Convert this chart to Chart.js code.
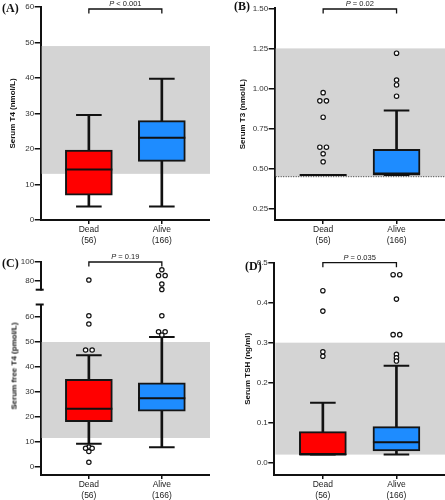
<!DOCTYPE html>
<html>
<head>
<meta charset="utf-8">
<script src="https://cdn.jsdelivr.net/npm/chart.js@4.4.1/dist/chart.umd.min.js"></script>
<style>
  html, body { margin: 0; padding: 0; background: #fff; }
  #page { position: relative; width: 445px; height: 500px; overflow: hidden; }
  .pane { position: absolute; }
  .tag { position: absolute; font: bold 12px "Liberation Serif", "Times New Roman", serif; line-height: 12px; color: #111; }
  #titleC { position: absolute; left: 14px; top: 366px; font: bold 8px "Liberation Sans", Arial, sans-serif;
            color: #111; white-space: nowrap; transform: translate(-50%, -50%) rotate(-90deg); }
</style>
</head>
<body>
<div id="page">
  <div class="pane" style="left:0;top:0;width:210px;height:250px"><canvas id="cA"></canvas></div>
  <div class="pane" style="left:222px;top:0;width:223px;height:250px"><canvas id="cB"></canvas></div>
  <div class="pane" style="left:0;top:250px;width:210px;height:45px"><canvas id="cCtop"></canvas></div>
  <div class="pane" style="left:0;top:250px;width:210px;height:250px"><canvas id="cC"></canvas></div>
  <div class="pane" style="left:222px;top:250px;width:223px;height:250px"><canvas id="cD"></canvas></div>
  <div class="tag" style="left:2px;top:2px">(A)</div>
  <div class="tag" style="left:234px;top:0px">(B)</div>
  <div class="tag" style="left:2px;top:257px">(C)</div>
  <div class="tag" style="left:245px;top:260px">(D)</div>
  <div id="titleC">Serum free T4 (pmol/L)</div>
</div>
<script>
// groups on the x axis
const groups = ['Dead', 'Alive'];
const groupN = ['(56)', '(166)'];
const boxColors = ['#ff0000', '#1e8cff'];

// boxes are [low whisker, Q1, median, Q3, high whisker]
// (A) serum T4
const t4Dead = [3.8, 7.0, 14.2, 19.7, 29.6];
const t4Alive = [3.8, 16.5, 23.2, 28.0, 39.8];
const t4Band = [13, 49];
const t4Ticks = [0, 10, 20, 30, 40, 50, 60];

// (B) serum T3
const t3Dead = [0.46, 0.46, 0.46, 0.46, 0.46];
const t3Alive = [0.46, 0.46, 0.47, 0.62, 0.862];
const t3DeadOut = [0.974, 0.923, 0.923, 0.821, 0.634, 0.634, 0.593, 0.543];
const t3AliveOut = [1.22, 1.053, 1.022, 0.952];
const t3Band = [0.45, 1.25];
const t3Ticks = [0.25, 0.5, 0.75, 1.0, 1.25, 1.5];

// (C) serum free T4 (broken axis)
const ft4Dead = [9.3, 18.1, 23.3, 35.1, 44.7];
const ft4Alive = [7.9, 22.3, 27.5, 33.7, 52.0];
const ft4DeadOut = [80.5, 60.5, 57.2, 46.8, 46.8, 8.0, 7.5, 7.5, 6.2, 1.9];
const ft4AliveOut = [91.6, 85.3, 85.3, 76.2, 70.2, 60.5, 54.1, 54.1, 52.8];
const ft4Band = [11.6, 50];
const ft4Ticks = [0, 10, 20, 30, 40, 50, 60];
const ft4TicksTop = [80, 100];

// (D) serum TSH
const tshDead = [0.02, 0.02, 0.02, 0.0775, 0.15];
const tshAlive = [0.02, 0.029, 0.051, 0.09, 0.242];
const tshDeadOut = [0.43, 0.379, 0.277, 0.266];
const tshAliveOut = [0.47, 0.47, 0.409, 0.32, 0.32, 0.271, 0.262, 0.254];
const tshBand = [0.02, 0.30];
const tshTicks = [0, 0.1, 0.2, 0.3, 0.4, 0.5];

Chart.defaults.font.family = '"Liberation Sans", Arial, sans-serif';
Chart.defaults.color = '#222';

// spread identical outliers side by side
function outlierPoints(values, gi) {
  const seen = {};
  return values.map(v => {
    const n = values.filter(w => w === v).length;
    const k = (seen[v] = (seen[v] || 0) + 1) - 1;
    const dx = n > 1 ? (k - (n - 1) / 2) * 0.09 : 0;
    return { x: gi + dx, y: v };
  });
}

const refBand = {
  id: 'refBand',
  beforeDatasetsDraw(chart, args, opts) {
    if (!opts.range) return;
    const { ctx, chartArea: a, scales: { y } } = chart;
    const top = Math.max(a.top, y.getPixelForValue(opts.range[1]));
    const bot = Math.min(a.bottom, y.getPixelForValue(opts.range[0]));
    if (bot <= top) return;
    ctx.save();
    ctx.fillStyle = '#d4d4d4';
    ctx.fillRect(a.left + 1, top, a.right - a.left - 1, bot - top);
    if (opts.dotted) {
      ctx.strokeStyle = '#333';
      ctx.lineWidth = 1;
      ctx.setLineDash([1, 1.5]);
      ctx.beginPath();
      ctx.moveTo(a.left + 1, bot);
      ctx.lineTo(a.right, bot);
      ctx.stroke();
    }
    ctx.restore();
  }
};

const pBracket = {
  id: 'pBracket',
  afterDraw(chart, args, opts) {
    if (!opts.text) return;
    const { ctx, chartArea: a, scales: { x } } = chart;
    const x0 = x.getPixelForValue(0), x1 = x.getPixelForValue(groups.length - 1);
    const yb = a.top + (opts.dy || 0);
    ctx.save();
    ctx.strokeStyle = '#111';
    ctx.lineWidth = 1.3;
    ctx.beginPath();
    ctx.moveTo(x0, yb + 4.5); ctx.lineTo(x0, yb); ctx.lineTo(x1, yb); ctx.lineTo(x1, yb + 4.5);
    ctx.stroke();
    const it = 'italic 7.5px "Liberation Sans"', rg = '7.5px "Liberation Sans"';
    ctx.font = it; const w1 = ctx.measureText('P').width;
    ctx.font = rg; const w2 = ctx.measureText(opts.text).width;
    const tx = (x0 + x1) / 2 - (w1 + w2) / 2, ty = yb - 3;
    ctx.fillStyle = '#222';
    ctx.font = it; ctx.fillText('P', tx, ty);
    ctx.font = rg; ctx.fillText(opts.text, tx + w1, ty);
    ctx.restore();
  }
};

const axisBreak = {
  id: 'axisBreak',
  afterDraw(chart, args, opts) {
    if (!opts.edges) return;
    const { ctx, chartArea: a } = chart;
    ctx.save();
    ctx.strokeStyle = '#111';
    ctx.lineWidth = 2;
    opts.edges.forEach(e => {
      const yy = e === 'top' ? a.top : a.bottom;
      ctx.beginPath(); ctx.moveTo(a.left - 5, yy); ctx.lineTo(a.left + 3, yy); ctx.stroke();
    });
    ctx.restore();
  }
};

function makePanel(id, c) {
  const datasets = [];
  if (!c.outliersOnly) {
    datasets.push({
      type: 'bar', order: 4, grouped: false, barThickness: 2, backgroundColor: '#111',
      data: c.boxes.map((b, i) => ({ x: i, y: [b[0], b[4]] }))
    });
    datasets.push({
      type: 'bar', order: 3, grouped: false, barThickness: 47, backgroundColor: boxColors,
      borderColor: '#151515', borderWidth: 2, borderSkipped: false,
      data: c.boxes.map((b, i) => ({ x: i, y: [b[1], b[3]] }))
    });
    datasets.push({
      type: 'scatter', order: 2, pointStyle: 'line', radius: 12.8, borderColor: '#111', borderWidth: 2,
      data: c.boxes.flatMap((b, i) => [{ x: i, y: b[0] }, { x: i, y: b[4] }])
    });
    datasets.push({
      type: 'scatter', order: 1, pointStyle: 'line', radius: 23.5, borderColor: '#111', borderWidth: 2,
      data: c.boxes.map((b, i) => ({ x: i, y: b[2] }))
    });
  }
  if (c.outliers) {
    datasets.push({
      type: 'scatter', order: 0, pointStyle: 'circle', radius: 2.2, borderWidth: 1.2,
      borderColor: '#111', backgroundColor: '#fff', clip: 6,
      data: c.outliers.flatMap((o, i) => outlierPoints(o, i))
    });
  }
  return new Chart(document.getElementById(id), {
    type: 'bar',
    data: { datasets },
    plugins: [refBand, pBracket, axisBreak],
    options: {
      responsive: true,
      maintainAspectRatio: false,
      animation: false,
      events: [],
      layout: { autoPadding: false, padding: { top: c.padTop, left: 0, right: 0, bottom: 0 } },
      plugins: {
        legend: { display: false },
        tooltip: { enabled: false },
        refBand: { range: c.band, dotted: c.dotted },
        pBracket: { text: c.p, dy: c.pDy },
        axisBreak: { edges: c.breaks }
      },
      scales: {
        x: {
          type: 'linear', min: -0.66, max: 1.66, offset: false, display: c.xHeight > 0,
          afterBuildTicks: s => { s.ticks = groups.map((g, i) => ({ value: i })); },
          afterFit: s => { s.height = c.xHeight; },
          ticks: { callback: v => [groups[v], groupN[v]], font: { size: 8.5 }, color: '#222',
                   padding: 1, maxRotation: 0, autoSkip: false },
          grid: { drawOnChartArea: false, offset: false, tickLength: 4, color: '#111', lineWidth: 1.5 },
          border: { color: '#111', width: 2 }
        },
        y: {
          type: 'linear', min: c.yMin, max: c.yMax,
          afterBuildTicks: s => { s.ticks = c.ticks.map(v => ({ value: v })); },
          afterFit: s => { s.width = c.yWidth; },
          ticks: { callback: v => c.fmt(v), font: { size: 8 }, color: '#333', padding: 0.5 },
          grid: { drawOnChartArea: false, tickLength: 6, color: '#111', lineWidth: 1.5 },
          border: { color: '#111', width: 2 },
          title: { display: !!c.title, text: c.title, color: '#111',
                   font: { size: 8, weight: 'bold' }, padding: { top: c.titlePad, bottom: 0 } }
        }
      }
    }
  });
}

makePanel('cA', {
  boxes: [t4Dead, t4Alive], band: t4Band, ticks: t4Ticks, fmt: v => String(v),
  yMin: 0, yMax: 60, yWidth: 40.7, padTop: 7, xHeight: 30,
  title: 'Serum T4 (nmol/L)', titlePad: 8.2, p: ' < 0.001', pDy: 2
});

makePanel('cB', {
  boxes: [t3Dead, t3Alive], outliers: [t3DeadOut, t3AliveOut], band: t3Band, dotted: true,
  ticks: t3Ticks, fmt: v => v.toFixed(2),
  yMin: 0.18, yMax: 1.5, yWidth: 52.7, padTop: 8.3, xHeight: 30,
  title: 'Serum T3 (nmol/L)', titlePad: 15.9, p: ' = 0.02', pDy: 0.7
});

makePanel('cCtop', {
  boxes: [ft4Dead, ft4Alive], outliers: [ft4DeadOut, ft4AliveOut], outliersOnly: true,
  ticks: ft4TicksTop, fmt: v => String(v),
  yMin: 70, yMax: 100, yWidth: 40.7, padTop: 12, xHeight: 0,
  p: ' = 0.19', pDy: 0, breaks: ['bottom']
});

makePanel('cC', {
  boxes: [ft4Dead, ft4Alive], outliers: [ft4DeadOut, ft4AliveOut], band: ft4Band,
  ticks: ft4Ticks, fmt: v => String(v),
  yMin: -3.2, yMax: 65, yWidth: 40.7, padTop: 54.5, xHeight: 25,
  breaks: ['top']
});

makePanel('cD', {
  boxes: [tshDead, tshAlive], outliers: [tshDeadOut, tshAliveOut], band: tshBand,
  ticks: tshTicks, fmt: v => v.toFixed(1),
  yMin: -0.031, yMax: 0.5, yWidth: 52.3, padTop: 12.7, xHeight: 25,
  title: 'Serum TSH (ng/ml)', titlePad: 20.5, p: ' = 0.035', pDy: 0
});
</script>
</body>
</html>
